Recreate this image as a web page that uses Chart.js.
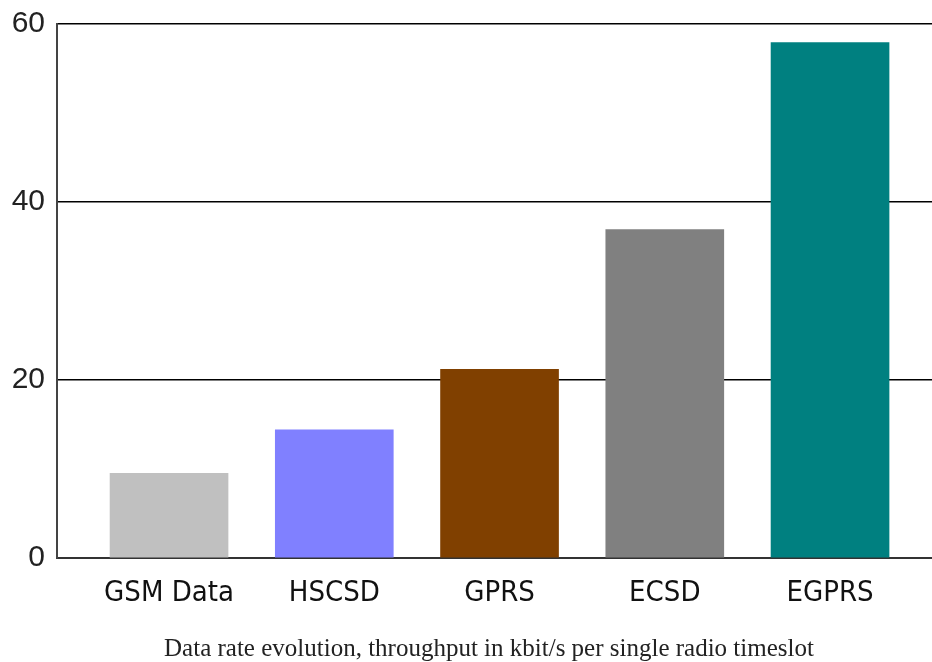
<!DOCTYPE html>
<html>
<head>
<meta charset="utf-8">
<script src="https://cdn.jsdelivr.net/npm/chart.js@4.4.0/dist/chart.umd.min.js"></script>
<style>
html,body{margin:0;padding:0;background:#fff;}
#wrap{width:932px;height:662px;position:relative;overflow:hidden;}
#cap{position:absolute;left:120px;width:738px;top:634px;text-align:center;white-space:nowrap;
  font-family:'Liberation Serif','DejaVu Serif',serif;font-size:25px;line-height:28px;color:#222;}
</style>
</head>
<body>
<div id="wrap"><canvas id="c" width="932" height="662"></canvas><div id="cap"></div></div>
<script>
const categories = ["GSM Data", "HSCSD", "GPRS", "ECSD", "EGPRS"];
const throughput = [9.5, 14.4, 21.2, 36.9, 57.9];
const barColors = ["#c0c0c0", "#8080ff", "#804000", "#808080", "#008080"];
const yTicks = [0, 20, 40, 60];
const caption = "Data rate evolution, throughput in kbit/s per single radio timeslot";

document.getElementById('cap').textContent = caption;

const points = categories.map((c, i) => ({x: i, y: throughput[i]}));

new Chart(document.getElementById('c'), {
  type: 'bar',
  data: {
    datasets: [{
      data: points,
      backgroundColor: barColors,
      borderWidth: 0,
      barThickness: 118
    }]
  },
  options: {
    responsive: false,
    animation: false,
    devicePixelRatio: 1,
    layout: {padding: {top: 0, right: 0, bottom: 46, left: 0}},
    plugins: {
      legend: {display: false},
      tooltip: {enabled: false},
      title: {display: false}
    },
    scales: {
      x: {
        type: 'linear',
        offset: false,
        min: -0.678,
        max: 4.617,
        afterBuildTicks: (s) => { s.ticks = categories.map((c, i) => ({value: i})); },
        afterFit: (s) => { s.height = 58; },
        grid: {display: false, drawTicks: false, offset: false},
        border: {display: true, color: '#333', width: 2},
        ticks: {
          padding: 18,
          color: '#111',
          font: {family: "'Liberation Sans Narrow', 'DejaVu Sans Condensed', sans-serif", size: 29},
          callback: (v) => categories[v]
        }
      },
      y: {
        min: 0,
        max: 60,
        afterBuildTicks: (s) => { s.ticks = yTicks.map(v => ({value: v})); },
        afterFit: (s) => { s.width = 57; s.paddingTop = 24; s.paddingBottom = 0; },
        grid: {color: '#000', lineWidth: 1.5, drawTicks: false},
        border: {display: true, color: '#444', width: 2},
        ticks: {
          padding: 12,
          color: '#222',
          font: {family: "'Liberation Sans', 'DejaVu Sans', sans-serif", size: 30}
        }
      }
    }
  }
});
</script>
</body>
</html>
